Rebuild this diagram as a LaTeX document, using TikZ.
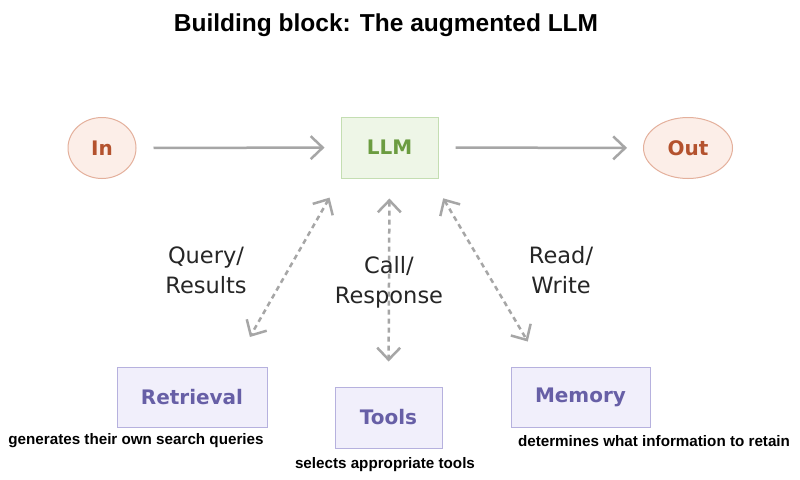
\documentclass[tikz,border=0pt]{standalone}
\usepackage{fontspec}
\setmainfont{Liberation Sans}
\newfontfamily\tagfont{DejaVu Sans}
\usetikzlibrary{shapes.geometric, arrows.meta}
\definecolor{peach}{RGB}{252, 238, 232}
\definecolor{rustline}{RGB}{228, 176, 156}
\definecolor{rust}{RGB}{180, 82, 46}
\definecolor{leaf}{RGB}{238, 246, 231}
\definecolor{leafline}{RGB}{196, 222, 178}
\definecolor{moss}{RGB}{107, 156, 64}
\definecolor{lilac}{RGB}{241, 239, 251}
\definecolor{lilacline}{RGB}{182, 177, 222}
\definecolor{plum}{RGB}{103, 95, 166}
\definecolor{wire}{RGB}{166, 166, 166}
\newcommand*{\boxh}{60}

\begin{document}
\begin{tikzpicture}[
   x=1pt, y=-1pt,
   ioell/.style={ellipse, draw=rustline, fill=peach, line width=1, text=rust,
                 inner sep=0, minimum height=61, font=\tagfont\bfseries\fontsize{20}{24}\selectfont},
   llmrec/.style={rectangle, draw=leafline, fill=leaf, line width=1, text=moss,
                  inner sep=0, minimum height=61, minimum width=97,
                  font=\tagfont\bfseries\fontsize{20}{24}\selectfont},
   augrec/.style={rectangle, draw=lilacline, fill=lilac, line width=1, text=plum,
                  inner sep=0, minimum height=\boxh, font=\tagfont\bfseries\fontsize{20}{24}\selectfont},
   flow/.style={draw=wire, line width=2.5, -{Straight Barb[length=12pt, width=23pt]}},
   swap/.style={draw=wire, line width=2.5, dash pattern=on 5pt off 4pt,
                {Straight Barb[length=12pt, width=23pt]}-{Straight Barb[length=12pt, width=23pt]}},
   pairtag/.style={align=center, text=black!85, font=\tagfont\fontsize{22.5}{30}\selectfont},
   note/.style={font=\bfseries\fontsize{15.2}{18}\selectfont}
  ]

  \useasboundingbox[fill=white] (0, 0) rectangle (800, 479);

  \node (T) at (386, 25) [font=\bfseries\fontsize{24.5}{28}\selectfont] { Building block: The augmented LLM };

  % Main row
  \node (I) at (102, 148) [ioell, minimum width=68] { In };
  \node (L) at (389.5, 147.5) [llmrec] { LLM };
  \node (O) at (688, 148) [ioell, minimum width=89] { Out };

  \foreach \B/\E in {I/L, L/O} {
    \draw[flow, shorten <=17, shorten >=16] (\B) -- (\E);
  }

  % Augmentations
  \node (R) at (192, 397) [augrec, minimum width=150] { Retrieval };
  \node (S) at (388.5, 417.5) [augrec, minimum width=107, minimum height=61] { Tools };
  \node (M) at (580.5, 397) [augrec, minimum width=139] { Memory };

  \draw[swap, shorten <=22, shorten >=34] (L.south west) -- ([xshift=41]R.north);
  \draw[swap, shorten <=20, shorten >=25] (L.south) -- (S.north);
  \draw[swap, shorten <=23, shorten >=29] ([xshift=-7]L.south east) -- ([xshift=-38]M.north);

  \node (QR) at (206, 270) [pairtag] { Query/\\Results };
  \node (CR) at (389, 282) [pairtag] { Call/\\Response };
  \node (RW) at (561, 270) [pairtag] { Read/\\Write };

  \node (RN) at (136, 441) [note] { generates their own search queries };
  \node (SN) at (385, 465) [note] { selects appropriate tools };
  \node (MN) at (654, 441) [note] { determines what information to retain };

\end{tikzpicture}
\end{document}
